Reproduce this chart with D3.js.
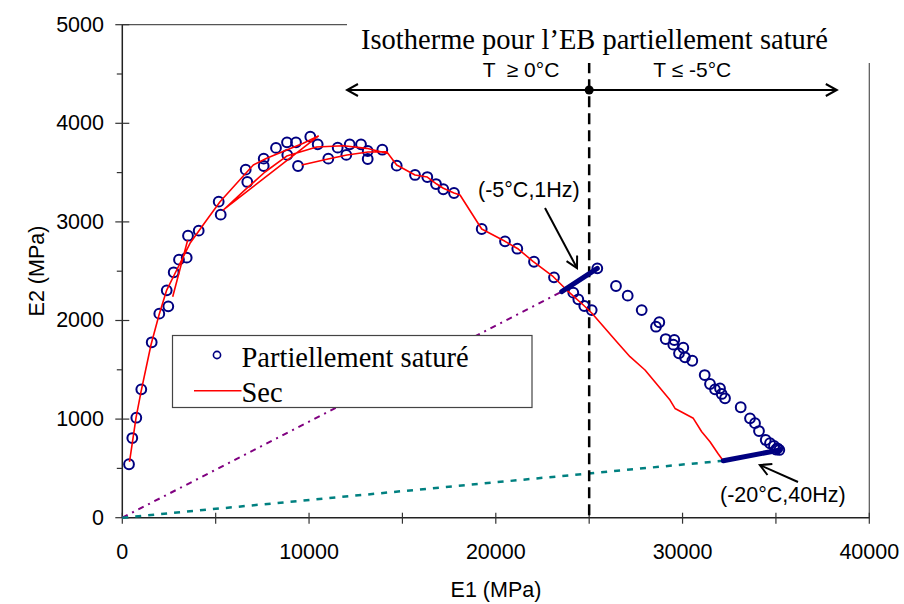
<!DOCTYPE html>
<html>
<head>
<meta charset="utf-8">
<script src="https://cdn.jsdelivr.net/npm/d3@7"></script>
<style>
  body { margin: 0; background: #fff; }
  svg { display: block; }
</style>
</head>
<body>
<svg width="904" height="604"></svg>
<script>
// ---- data (MPa) ----
var xTicks = [0, 10000, 20000, 30000, 40000];
var yTicks = [0, 1000, 2000, 3000, 4000, 5000];

// Partiellement saturé (circles)
var satE1 = [359, 535, 750, 1017, 1574, 1981, 2463, 2378, 2752, 3036, 3448, 3518, 4091, 5162, 5269,
  6608, 6693, 7572, 7572, 8230, 8819, 8835, 9301, 9408, 10067, 10463, 11031, 11534, 11995, 12177,
  12782, 13141, 13141, 13923, 14694, 15674, 16332, 16798, 17189, 17762, 19245, 20493, 21151, 22046,
  23117, 24150, 24418, 24739, 25135, 25435, 26436, 27063, 27812, 28755, 28578, 29097, 29558, 29505,
  30040, 29810, 30131, 30522, 31186, 31470, 31738, 32005, 32096, 32273, 33114, 33612, 33880, 34094,
  34453, 34683, 34897, 35074, 35181, 35000];
var satE2 = [542, 808, 1014, 1302, 1779, 2069, 2144, 2306, 2489, 2617, 2637, 2860, 2911, 3205, 3073,
  3530, 3405, 3641, 3567, 3750, 3807, 3679, 3807, 3567, 3864, 3787, 3641, 3753, 3679, 3787,
  3787, 3719, 3638, 3732, 3570, 3476, 3455, 3384, 3331, 3293, 2928, 2803, 2728, 2596,
  2438, 2282, 2215, 2147, 2106, 2529, 2350, 2252, 2106, 1982, 1937, 1812, 1802, 1755,
  1724, 1667, 1627, 1592, 1447, 1356, 1302, 1312, 1255, 1211, 1120, 1008, 959, 879,
  788, 755, 727, 704, 687, 690];

// Sec (red line), null = break
var secE1 = [2699, 3502, null,
  386, 734, 1001, 1537, 1965, 2378, 2913, 3625, 4519, 5232, 6126, 7015, 7732, 8803, 9692, 10495,
  5408, 6570, 7641, 8803, 10410, 11834, 13087, 14158, null,
  9606, 11015, 12032, 13157, 14158, 14693, 15674, 16332, 16835, 17189, 17762, 18084, 19245, 20493,
  21205, 22008, 23079, 23797, 24686, 25135, 26474, 27186, 27989, 29328, 29596, 30576, 31026, 31470,
  31915, 32180];
var secE2 = [2241, 2817, null,
  565, 1013, 1277, 1754, 2056, 2309, 2512, 2783, 3019, 3205, 3392, 3577, 3645, 3729, 3797, 3871,
  3121, 3324, 3506, 3668, 3760, 3773, 3746, 3696, null,
  3577, 3638, 3679, 3709, 3712, 3577, 3476, 3455, 3384, 3341, 3293, 3273, 2928, 2803,
  2725, 2596, 2444, 2309, 2157, 2076, 1785, 1633, 1498, 1193, 1108, 1008, 872, 771,
  646, 578];

// rays from origin and (-5°C,1Hz) / (-20°C,40Hz) segments
var rayM5E1 = [0, 23530], rayM5E2 = [0, 2292];
var rayM20E1 = [0, 32180], rayM20E2 = [0, 578];
var segM5E1 = [23530, 25435], segM5E2 = [2292, 2529];
var segM20E1 = [32180, 35220], segM20E2 = [578, 687];

var svg = d3.select('svg');
var sans = '"Liberation Sans", Arial, sans-serif';
var serif = '"Liberation Serif", "Times New Roman", serif';

var x = d3.scaleLinear().domain([0, 40000]).range([122.3, 869.3]);
var y = d3.scaleLinear().domain([0, 5000]).range([517.7, 24.7]);

function pts(a, b) {
    return a.map(function(v, i) { return v == null ? null : [v, b[i]]; });
}
var line = d3.line()
    .defined(function(d) { return d != null; })
    .x(function(d) { return x(d[0]); })
    .y(function(d) { return y(d[1]); });

// arrow marker
svg.append('defs').append('marker')
    .attr('id', 'arr')
    .attr('markerUnits', 'userSpaceOnUse')
    .attr('viewBox', '0 0 14 14')
    .attr('markerWidth', 14).attr('markerHeight', 14)
    .attr('refX', 12).attr('refY', 7)
    .attr('orient', 'auto-start-reverse')
    .append('path')
    .attr('d', 'M1,1 L12,7 L1,13')
    .attr('fill', 'none').attr('stroke', '#000').attr('stroke-width', 2);

// frame (top + right)
svg.append('path')
    .attr('d', 'M' + x(0) + ',' + y(5000) + 'H' + x(40000) + 'V' + y(0))
    .attr('fill', 'none').attr('stroke', '#555').attr('stroke-width', 1.2);

// axes
var gx = svg.append('g').attr('transform', 'translate(0,' + y(0) + ')');
gx.append('line').attr('x1', x(0)).attr('x2', x(40000)).attr('stroke', '#222').attr('stroke-width', 1.5);
gx.selectAll('.tk').data(d3.range(0, 40001, 5000)).enter().append('line')
    .attr('x1', function(d) { return x(d); }).attr('x2', function(d) { return x(d); })
    .attr('y1', -5).attr('y2', 6).attr('stroke', '#333').attr('stroke-width', 1.2);
gx.selectAll('text').data(xTicks).enter().append('text')
    .attr('x', function(d) { return x(d); }).attr('y', 41.6)
    .attr('text-anchor', 'middle')
    .style('font-family', sans).style('font-size', '21.5px')
    .text(function(d) { return d; });

var gy = svg.append('g');
gy.append('line').attr('x1', x(0)).attr('x2', x(0)).attr('y1', y(0)).attr('y2', y(5000))
    .attr('stroke', '#222').attr('stroke-width', 1.5);
gy.selectAll('.mj').data(yTicks).enter().append('line')
    .attr('x1', x(0) - 7).attr('x2', x(0) + 7)
    .attr('y1', function(d) { return y(d); }).attr('y2', function(d) { return y(d); })
    .attr('stroke', '#333').attr('stroke-width', 1.2);
gy.selectAll('.mn').data(d3.range(500, 5000, 1000)).enter().append('line')
    .attr('x1', x(0) - 5.5).attr('x2', x(0))
    .attr('y1', function(d) { return y(d); }).attr('y2', function(d) { return y(d); })
    .attr('stroke', '#333').attr('stroke-width', 1.2);
gy.selectAll('text').data(yTicks).enter().append('text')
    .attr('x', 104).attr('y', function(d) { return y(d) + 6.8; })
    .attr('text-anchor', 'end')
    .style('font-family', sans).style('font-size', '21.5px')
    .text(function(d) { return d; });

svg.append('text').text('E1 (MPa)')
    .attr('x', 496).attr('y', 597).attr('text-anchor', 'middle')
    .style('font-family', sans).style('font-size', '21.5px');
svg.append('text').text('E2 (MPa)')
    .attr('transform', 'translate(44,271) rotate(-90)').attr('text-anchor', 'middle')
    .style('font-family', sans).style('font-size', '21.5px');

// rays from origin
svg.append('path').datum(pts(rayM5E1, rayM5E2)).attr('d', line)
    .attr('fill', 'none').attr('stroke', '#800080').attr('stroke-width', 2)
    .attr('stroke-dasharray', '6,5,2,5');
svg.append('path').datum(pts(rayM20E1, rayM20E2)).attr('d', line)
    .attr('fill', 'none').attr('stroke', '#008080').attr('stroke-width', 2.5)
    .attr('stroke-dasharray', '6,7');

// vertical dashed line at 25000
svg.append('line')
    .attr('x1', x(25000)).attr('x2', x(25000)).attr('y1', y(4620)).attr('y2', y(0))
    .attr('stroke', '#000').attr('stroke-width', 2.5).attr('stroke-dasharray', '11,6');

// circles
svg.selectAll('.sat').data(pts(satE1, satE2)).enter().append('circle')
    .attr('class', 'sat')
    .attr('cx', function(d) { return x(d[0]); })
    .attr('cy', function(d) { return y(d[1]); })
    .attr('r', 4.9)
    .attr('fill', 'none').attr('stroke', '#000080').attr('stroke-width', 2);

// Sec line
svg.append('path').datum(pts(secE1, secE2)).attr('d', line)
    .attr('fill', 'none').attr('stroke', '#ff0000').attr('stroke-width', 1.6)
    .attr('stroke-linejoin', 'round');

// thick segments
[[segM5E1, segM5E2], [segM20E1, segM20E2]].forEach(function(s) {
    svg.append('path').datum(pts(s[0], s[1])).attr('d', line)
        .attr('fill', 'none').attr('stroke', '#000080').attr('stroke-width', 5)
        .attr('stroke-linecap', 'round');
});

// title box (covers frame)
svg.append('rect').attr('x', 347).attr('y', 14).attr('width', 540).attr('height', 49).attr('fill', '#fff');
svg.append('text').text('Isotherme pour l\u2019EB partiellement satur\u00e9')
    .attr('x', 594.5).attr('y', 49).attr('text-anchor', 'middle')
    .style('font-family', serif).style('font-size', '28.5px');

// temperature range arrow
svg.append('line')
    .attr('x1', x(12030)).attr('x2', x(38260)).attr('y1', 90).attr('y2', 90)
    .attr('stroke', '#000').attr('stroke-width', 2)
    .attr('marker-start', 'url(#arr)').attr('marker-end', 'url(#arr)');
svg.append('circle').attr('cx', x(25000)).attr('cy', 90).attr('r', 4.5).attr('fill', '#000');
svg.append('text').text('T  \u2265 0\u00b0C').attr('x', 521).attr('y', 76.7).attr('text-anchor', 'middle')
    .style('font-family', sans).style('font-size', '21px').style('white-space', 'pre');
svg.append('text').text('T \u2264 -5\u00b0C').attr('x', 692.3).attr('y', 76.7).attr('text-anchor', 'middle')
    .style('font-family', sans).style('font-size', '21px');

// point annotations
svg.append('line').attr('x1', 545).attr('y1', 208).attr('x2', x(24348)).attr('y2', y(2532))
    .attr('stroke', '#000').attr('stroke-width', 2).attr('marker-end', 'url(#arr)');
svg.append('text').text('(-5\u00b0C,1Hz)').attr('x', 478).attr('y', 197)
    .style('font-family', sans).style('font-size', '21.5px');
svg.append('line').attr('x1', 798).attr('y1', 482).attr('x2', x(34140)).attr('y2', y(534))
    .attr('stroke', '#000').attr('stroke-width', 2).attr('marker-end', 'url(#arr)');
svg.append('text').text('(-20\u00b0C,40Hz)').attr('x', 720).attr('y', 502)
    .style('font-family', sans).style('font-size', '21.5px');

// legend
var lg = svg.append('g');
lg.append('rect').attr('x', 172.5).attr('y', 335.5).attr('width', 359.5).attr('height', 72)
    .attr('fill', '#fff').attr('stroke', '#444').attr('stroke-width', 1.2);
lg.append('circle').attr('cx', 217).attr('cy', 355).attr('r', 3.6)
    .attr('fill', 'none').attr('stroke', '#000080').attr('stroke-width', 1.6);
lg.append('text').text('Partiellement satur\u00e9').attr('x', 241.5).attr('y', 367)
    .style('font-family', serif).style('font-size', '28.5px');
lg.append('line').attr('x1', 194).attr('x2', 241.5).attr('y1', 390.7).attr('y2', 390.7)
    .attr('stroke', '#ff0000').attr('stroke-width', 1.6);
lg.append('text').text('Sec').attr('x', 241.5).attr('y', 401.5)
    .style('font-family', serif).style('font-size', '28.5px');
</script>
</body>
</html>
